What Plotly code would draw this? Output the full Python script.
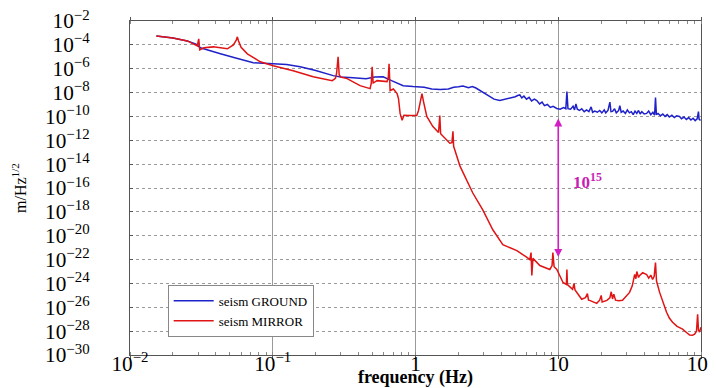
import numpy as np
import plotly.graph_objects as go

# ---- data (frequency in Hz, amplitude as log10 of m/Hz^1/2) ----
ground_freq = [0.0153, 0.0200, 0.0252, 0.0290, 0.0311, 0.0360, 0.0430, 0.0550, 0.0731, 0.1007,
               0.125, 0.1556, 0.200, 0.265, 0.300, 0.366, 0.450, 0.520, 0.593, 0.680,
               0.819, 0.962, 1.15, 1.30, 1.49, 1.70, 1.85, 2.00, 2.15, 2.35,
               2.50, 2.65, 2.83, 3.05, 3.30, 3.55, 3.90, 4.30, 4.70, 5.00,
               5.20, 5.38, 5.55, 5.75, 6.00, 6.25, 6.50, 6.80, 7.08, 7.40,
               7.70, 8.00, 8.40, 8.80, 9.20, 9.77, 10.3, 10.9, 11.3, 11.5,
               11.7, 12.2, 12.7, 13.0, 13.3, 13.6, 14.1, 14.6, 15.2, 15.8,
               16.4, 17.0, 17.4, 18.0, 18.8, 19.5, 20.2, 21.0, 21.5, 22.3,
               23.0, 23.4, 24.0, 24.8, 25.5, 26.5, 27.0, 27.6, 28.5, 29.5,
               30.5, 31.5, 32.5, 33.5, 34.5, 35.5, 36.5, 37.5, 38.5, 40.0,
               41.6, 43.0, 44.5, 46.0, 47.3, 48.0, 48.7, 50.0, 52.0, 54.0,
               56.0, 58.0, 60.0, 62.5, 65.0, 67.5, 70.7, 73.0, 76.0, 79.0,
               82.0, 85.0, 88.0, 91.0, 94.0, 96.0, 97.0, 99.3]
ground_log_amp = [-3.25, -3.42, -3.67, -3.95, -4.25, -4.45, -4.75, -5.10, -5.50, -5.58,
                  -5.65, -5.83, -6.15, -6.58, -6.70, -6.75, -6.85, -6.70, -6.67, -7.00,
                  -7.42, -7.50, -7.55, -7.70, -7.75, -7.70, -7.55, -7.52, -7.45, -7.60,
                  -7.50, -7.62, -7.83, -8.05, -8.35, -8.55, -8.67, -8.55, -8.40, -8.35,
                  -8.25, -8.20, -8.45, -8.30, -8.55, -8.40, -8.70, -8.55, -8.67, -8.95,
                  -8.80, -9.10, -9.00, -9.25, -9.15, -9.33, -9.40, -9.25, -9.35, -7.92,
                  -9.35, -9.40, -9.15, -9.45, -8.95, -9.40, -9.50, -9.35, -9.60, -9.45,
                  -9.60, -9.20, -9.65, -9.55, -9.65, -9.50, -9.70, -9.45, -9.70, -9.50,
                  -8.80, -9.60, -9.58, -9.35, -9.70, -9.50, -9.10, -9.65, -9.55, -9.75,
                  -9.45, -9.70, -9.60, -9.85, -9.55, -9.75, -9.50, -9.80, -9.60, -9.80,
                  -9.75, -9.55, -9.85, -9.65, -9.90, -8.42, -9.85, -9.75, -9.95, -9.80,
                  -10.00, -9.85, -10.05, -9.90, -10.10, -9.95, -10.00, -10.20, -10.05, -10.25,
                  -10.10, -10.30, -10.15, -10.35, -10.20, -9.60, -10.25, -10.33]

mirror_freq = [0.0153, 0.0200, 0.0252, 0.0296, 0.0303, 0.0308, 0.0330, 0.0384, 0.0481, 0.0530,
               0.0555, 0.0565, 0.0575, 0.0600, 0.0664, 0.0818, 0.1007, 0.139, 0.192, 0.240,
               0.261, 0.275, 0.280, 0.287, 0.292, 0.300, 0.332, 0.409, 0.481, 0.490,
               0.497, 0.505, 0.538, 0.632, 0.645, 0.653, 0.660, 0.664, 0.700, 0.743,
               0.760, 0.780, 0.806, 0.830, 0.916, 0.960, 1.02, 1.05, 1.08, 1.11,
               1.14, 1.20, 1.32, 1.45, 1.48, 1.50, 1.74, 1.80, 1.83, 1.85,
               2.05, 2.52, 2.96, 3.48, 4.09, 5.13, 6.00, 6.32, 6.45, 6.53,
               6.65, 7.43, 8.73, 9.05, 9.17, 9.35, 9.77, 10.8, 11.4, 11.5,
               11.6, 12.6, 12.9, 13.1, 14.6, 15.5, 16.0, 16.3, 16.6, 17.8,
               18.6, 19.5, 20.0, 20.3, 21.9, 23.0, 23.5, 24.0, 24.5, 25.2,
               26.5, 28.2, 30.0, 31.6, 33.0, 34.3, 35.0, 35.5, 36.5, 37.2,
               39.0, 41.6, 43.0, 44.5, 45.8, 47.0, 48.0, 48.8, 51.3, 54.0,
               57.4, 60.0, 63.2, 68.0, 74.3, 78.0, 83.2, 87.0, 90.2, 93.0,
               94.7, 96.0, 97.7, 100.0]
mirror_log_amp = [-3.25, -3.42, -3.67, -4.08, -3.50, -4.42, -4.25, -4.17, -4.33, -4.00,
                  -3.60, -3.33, -3.65, -4.20, -4.75, -5.42, -5.75, -6.17, -6.67, -6.92,
                  -7.00, -6.80, -6.40, -5.00, -6.50, -6.70, -6.83, -7.42, -7.67, -7.20,
                  -5.83, -7.20, -7.00, -7.08, -6.70, -5.58, -6.80, -7.83, -7.70, -8.08,
                  -8.50, -9.75, -10.33, -9.90, -9.92, -9.90, -9.92, -9.50, -8.70, -8.08,
                  -8.80, -10.00, -10.83, -11.35, -9.92, -11.45, -12.25, -12.20, -11.25, -12.50,
                  -14.17, -16.42, -17.83, -19.50, -20.75, -21.25, -21.80, -22.00, -21.42, -23.33,
                  -21.90, -22.50, -22.83, -22.50, -21.42, -22.60, -22.83, -23.92, -24.08, -22.83,
                  -24.10, -24.50, -24.00, -24.55, -25.33, -25.20, -24.85, -25.40, -25.42, -25.60,
                  -25.67, -25.40, -25.00, -25.55, -25.42, -25.20, -24.70, -25.30, -24.90, -25.40,
                  -25.45, -25.42, -25.10, -24.75, -24.20, -23.25, -23.60, -23.00, -23.50, -23.33,
                  -23.10, -23.25, -23.55, -23.30, -23.67, -23.40, -22.25, -23.80, -24.75, -25.60,
                  -26.42, -26.90, -27.25, -27.60, -27.83, -28.05, -28.33, -28.35, -28.25, -28.00,
                  -26.58, -27.90, -28.08, -27.67]

series_names = ["seism GROUND", "seism MIRROR"]
arrow_freq = 10.0
arrow_top_log = -10.17
arrow_bottom_log = -21.9
ratio_label = "10<sup>15</sup>"
ratio_label_freq = 16.1
ratio_label_log = -15.4

FONT = "Liberation Serif, Times New Roman, serif"

fig = go.Figure()
fig.add_trace(go.Scatter(x=ground_freq, y=10.0 ** np.array(ground_log_amp), mode="lines",
                         name=series_names[0], line=dict(color="#1f22c8", width=1.5)))
fig.add_trace(go.Scatter(x=mirror_freq, y=10.0 ** np.array(mirror_log_amp), mode="lines",
                         name=series_names[1], line=dict(color="#e01414", width=1.5)))

fig.add_annotation(x=np.log10(arrow_freq), y=arrow_top_log, ax=np.log10(arrow_freq), ay=arrow_bottom_log,
                   xref="x", yref="y", axref="x", ayref="y", text="", showarrow=True,
                   arrowhead=2, startarrowhead=2, arrowside="end+start", arrowsize=1,
                   arrowwidth=1.6, arrowcolor="#d21ec4")
fig.add_annotation(x=np.log10(ratio_label_freq), y=ratio_label_log, xref="x", yref="y",
                   text="<b>" + ratio_label + "</b>", showarrow=False,
                   font=dict(family=FONT, size=17, color="#c81eb4"))

# the page places the figure 8 px from the window's top-left corner
fig.update_layout(
    width=708, height=380,
    margin=dict(l=122, r=15, t=13, b=33),
    paper_bgcolor="white", plot_bgcolor="white",
    font=dict(family=FONT, size=17, color="black"),
    showlegend=True,
    legend=dict(x=0.066, y=0.21, xanchor="left", yanchor="top",
                bgcolor="white", bordercolor="#888888", borderwidth=1,
                font=dict(family=FONT, size=13, color="black"),
                tracegroupgap=0, itemwidth=40),
)
fig.update_xaxes(type="log", range=[-2, 2], dtick=1, exponentformat="power", automargin=False,
                 showgrid=True, gridcolor="#9a9a9a", gridwidth=1,
                 showline=True, linecolor="#555555", linewidth=1, mirror="ticks",
                 ticks="outside", ticklen=3, tickcolor="#555555", ticklabelstandoff=-13,
                 ticklabeloverflow="allow",
                 minor=dict(ticks="inside", ticklen=3, tickcolor="#888888", showgrid=False),
                 tickfont=dict(family=FONT, size=17),
                 title=dict(text="<b>frequency (Hz)</b>", font=dict(family=FONT, size=18), standoff=9),
                 zeroline=False)
fig.update_yaxes(type="log", range=[-30, -2], dtick=2, exponentformat="power", automargin=False,
                 showgrid=True, gridcolor="#9a9a9a", gridwidth=1, griddash="dot",
                 showline=True, linecolor="#555555", linewidth=1, mirror=True,
                 ticks="inside", ticklen=3, tickcolor="#555555", ticklabelstandoff=36,
                 ticklabeloverflow="allow",
                 tickfont=dict(family=FONT, size=17),
                 title=dict(text="m/Hz<sup>1/2</sup>", font=dict(family=FONT, size=16), standoff=14),
                 zeroline=False)

fig.write_html("out.html")
